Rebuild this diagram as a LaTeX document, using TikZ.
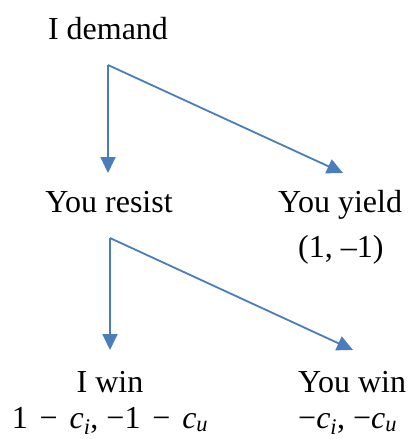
\documentclass[tikz,border=0pt]{standalone}
\usepackage{fontspec}
\setmainfont{Liberation Serif}
\usetikzlibrary{arrows.meta}
\definecolor{arrowblue}{RGB}{74,126,187}
\newcommand{\vc}[1]{\textit{c}\textsubscript{\textit{#1}}}
\newcommand{\mn}{\hspace{0.12em}−\hspace{0.12em}}
\begin{document}
\begin{tikzpicture}[x=1pt,y=-1pt,
  lbl/.style={inner sep=0pt,anchor=base,font=\fontsize{32}{38}\selectfont},
  lblw/.style={lbl,anchor=base west},
  conn/.style={draw=arrowblue,line width=1.8pt,-{Triangle[width=15pt,length=16pt]}}]
\useasboundingbox (0,0) rectangle (410,439);
\node[lbl] (demand) at (108,39) {I demand};
\node[lbl] (resist) at (109,212) {You resist};
\node[lblw] (yield) at (278,212) {You yield};
\node[lblw] (yieldpay) at (298,257) {(1, –1)};
\node[lbl] (iwin) at (110,392) {I win};
\node[lbl] (iwinpay) at (110,428) {1 \mn\ \vc{i}, −1 \mn\ \vc{u}};
\node[lblw] (youwin) at (298,392) {You win};
\node[lblw] (youwinpay) at (298,428) {−\vc{i}, −\vc{u}};
\coordinate (s1) at (108,65);
\coordinate (t1a) at (108,173);
\coordinate (t1b) at (343,173);
\coordinate (s2) at (110,238);
\coordinate (t2a) at (110,350);
\coordinate (t2b) at (353,350);
\draw[conn] (s1) -- (t1a);
\draw[conn] (s1) -- (t1b);
\draw[conn] (s2) -- (t2a);
\draw[conn] (s2) -- (t2b);
\end{tikzpicture}
\end{document}
